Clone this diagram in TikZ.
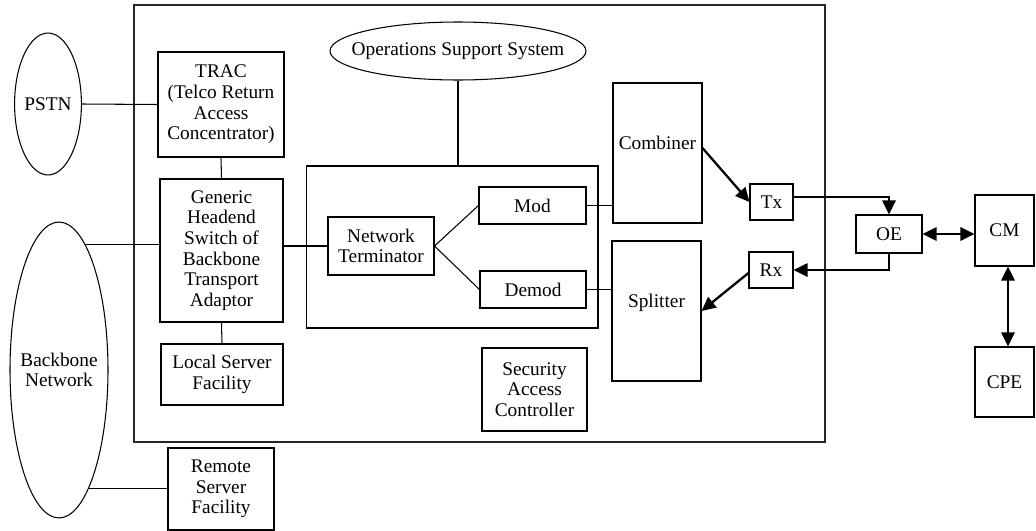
\documentclass[tikz,border=0pt]{standalone}
\usepackage{fontspec}
\setmainfont{Liberation Serif}
\usepackage{tikz}
\usetikzlibrary{shapes.geometric, arrows.meta, positioning, calc}
\tikzstyle{box}    = [rectangle, draw=black, line width=0.6pt, align=center,
                      inner sep=1pt, font=\fontsize{11}{11.8}\selectfont]
\tikzstyle{netw}   = [ellipse, draw=black, line width=0.6pt, align=center,
                      inner sep=0pt, font=\fontsize{11}{11.8}\selectfont]
\tikzstyle{hub}    = [rectangle, draw=black!85, line width=1pt]
\tikzstyle{link}   = [line width=0.6pt]
\tikzstyle{arr}    = [-{Triangle[length=8pt,width=7.5pt]}, line width=1.3pt]
\tikzstyle{darr}   = [{Triangle[length=8pt,width=7.5pt]}-{Triangle[length=8pt,width=7.5pt]}, line width=1.3pt]

\begin{document}
\begin{tikzpicture}[x=0.02cm, y=-0.02cm]
  \useasboundingbox (0,0) rectangle (1036,531);

  % headend frame
  \node[hub, minimum width=13.82cm, minimum height=8.74cm] (headend) at (479.5,223.5) {};

  % outside networks
  \node[netw, minimum width=1.32cm, minimum height=2.84cm] (pstn) at (48,104) {PSTN};
  \node[netw, minimum width=1.96cm, minimum height=5.92cm] (bbnet) at (59,370)
       {\makebox[0pt]{Backbone}\\\makebox[0pt]{Network}};
  \node[netw, minimum width=5.12cm, minimum height=1.16cm] (oss) at (458,51)
       {\makebox[0pt]{Operations Support System}};

  % left column
  \node[box, minimum width=2.52cm, minimum height=2.10cm] (trac) at (221,104.5)
       {TRAC\\(Telco Return\\Access\\Concentrator)};
  \node[box, minimum width=2.46cm, minimum height=2.86cm] (ghs) at (221.5,250.5)
       {Generic\\Headend\\Switch of\\Backbone\\Transport\\Adaptor};
  \node[box, minimum width=2.44cm, minimum height=1.22cm] (lsf) at (222,374.5)
       {Local Server\\Facility};
  \node[box, minimum width=2.12cm, minimum height=1.64cm] (rsf) at (221,489)
       {Remote\\Server\\Facility};

  % network terminator group
  \node[box, minimum width=5.84cm, minimum height=3.24cm] (ntgroup) at (452,247) {};
  \node[box, minimum width=2.12cm, minimum height=1.16cm] (nt) at (381,246)
       {Network\\Terminator};
  \node[box, minimum width=2.14cm, minimum height=0.74cm] (mod) at (532.5,205.5) {Mod};
  \node[box, minimum width=2.12cm, minimum height=0.74cm] (demod) at (533,289.5) {Demod};

  \node[box, minimum width=2.10cm, minimum height=1.66cm] (sac) at (534.5,389.5)
       {Security\\Access\\Controller};

  % rf side
  \node[box, minimum width=1.78cm, minimum height=2.80cm, text depth=0.4cm] (comb) at (657.5,153) {Combiner};
  \node[box, minimum width=1.78cm, minimum height=2.80cm, text depth=0.4cm] (split) at (656.5,311) {Splitter};
  \node[box, minimum width=0.86cm, minimum height=0.72cm] (tx) at (771.5,202) {Tx};
  \node[box, minimum width=0.88cm, minimum height=0.72cm] (rx) at (771,270) {Rx};
  \node[box, minimum width=1.32cm, minimum height=0.76cm] (oe) at (889,234) {OE};
  \node[box, minimum width=1.18cm, minimum height=1.42cm] (cm) at (1004.5,230.5) {CM};
  \node[box, minimum width=1.18cm, minimum height=1.40cm] (cpe) at (1004.5,382) {CPE};

  % plain links
  \draw[link] (pstn.east) -- (trac.west);
  \draw[link] (bbnet.78) -- (bbnet.78 -| ghs.west);
  \draw[link] (bbnet.-76) -- (bbnet.-76 -| rsf.west);
  \draw[link] (trac.south) -- (ghs.north);
  \draw[link] (ghs.south) -- (lsf.north);
  \draw[link] (nt.west) -- (nt.west -| ghs.east);
  \draw[link] (oss.south) -- (oss.south |- ntgroup.north);
  \draw[link] (nt.east) -- (mod.west);
  \draw[link] (nt.east) -- (demod.west);
  \draw[link] (mod.east) -- (mod.east -| comb.west);
  \draw[link] (demod.east) -- (demod.east -| split.west);

  % signal arrows
  \draw[arr] ([yshift=0.1cm]comb.east) -- (tx.west);
  \draw[arr] ([yshift=0.1cm]tx.east) -| (oe.north);
  \draw[arr] (oe.south) |- (rx.east);
  \draw[arr] ([yshift=-0.06cm]rx.west) -- (split.east);
  \draw[darr] (oe.east) -- (oe.east -| cm.west);
  \draw[darr] ([xshift=0.07cm]cm.south) -- ([xshift=0.07cm]cpe.north);
\end{tikzpicture}
\end{document}
